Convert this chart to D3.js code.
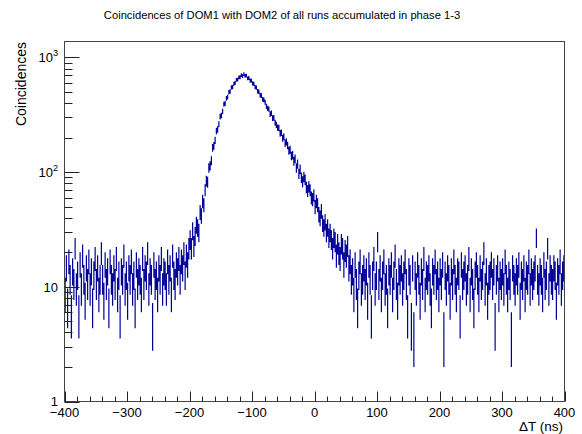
<!DOCTYPE html>
<html>
<head>
<meta charset="utf-8">
<script src="https://cdn.jsdelivr.net/npm/d3@7"></script>
<style>
  body { margin: 0; background: #fff; }
  svg { display: block; font-family: "Liberation Sans", Arial, Helvetica, sans-serif; }
</style>
</head>
<body>
<div id="chart"></div>
<script>
// counts per 2 ns bin
// bins -400 .. -202
const leftCounts = [
  9,15,7,17,12,6,14,11,22,10,
  13,6,16,10,19,12,8,15,11,17,
  10,14,7,13,18,11,15,9,12,20,
  12,8,16,11,14,7,17,12,10,15,
  11,18,9,13,6,14,12,19,10,13,
  8,15,12,17,10,13,7,16,11,14,
  12,9,18,11,15,13,20,10,14,12,
  5,16,11,13,9,15,12,18,10,14,
  13,10,17,12,15,9,19,13,11,16,
  14,18,12,17,15,20,13,19,16,22
];
// bins -200 .. 58
const peakCounts = [
  26,22,31,23,28,35,33,30,45,42,
  56,52,70,84,82,109,114,126,163,170,
  190,229,236,262,305,312,339,391,398,441,
  452,498,505,548,552,590,598,638,641,670,
  672,701,688,716,690,694,658,662,630,628,
  595,588,551,547,508,503,470,465,431,427,
  407,376,360,355,321,327,296,298,270,259,
  245,243,218,221,198,204,179,184,171,154,
  157,139,141,125,131,109,118,97,106,90,
  83,91,86,74,69,75,70,60,58,63,
  50,56,52,43,40,46,36,33,37,30,
  33,27,30,26,22,27,25,19,24,20,
  18,24,22,16,21,19,23,15,17,12
];
// bins 60 .. 398
const rightCounts = [
  14,9,16,11,7,13,17,10,12,15,
  11,14,8,16,12,6,13,18,10,13,
  25,11,15,9,13,17,10,12,7,14,
  12,16,9,13,19,11,8,14,12,15,
  10,13,17,11,6,14,12,5,15,4,
  13,10,16,12,8,14,11,18,9,13,
  12,15,10,7,14,12,17,11,13,9,
  14,11,16,4,13,10,15,12,8,14,
  11,17,12,9,14,13,6,16,11,13,
  15,10,12,18,9,14,11,7,13,16,
  12,9,15,11,13,20,10,14,8,12,
  13,16,11,14,5,12,15,9,13,11,
  14,10,17,12,9,13,11,4,15,12,
  10,14,12,16,8,13,11,15,9,13,
  12,17,10,14,11,13,15,27,12,10,
  14,12,9,16,11,13,22,10,15,12,
  11,15,13,8,14,12,17,10,13,15
];

const xMajorTicks = [-400, -300, -200, -100, 0, 100, 200, 300, 400];
const yMajorTicks = [1, 10, 100, 1000];
const yTickLabels = [["1", ""], ["10", ""], ["10", "2"], ["10", "3"]];

const width = 582, height = 434;
const frame = { left: 64.5, right: 564.5, top: 41.5, bottom: 401.5 };
const binWidth = 2;

const counts = leftCounts.concat(peakCounts, rightCounts);
const bins = counts.map((n, i) => ({ lo: -400 + i * binWidth, hi: -400 + (i + 1) * binWidth, n: n }));

const x = d3.scaleLinear().domain([-400, 400]).range([frame.left, frame.right]);
const y = d3.scaleLog().domain([1, 1377]).range([frame.bottom, frame.top]);

const svg = d3.select("#chart").append("svg")
    .attr("width", width)
    .attr("height", height);

svg.append("clipPath").attr("id", "clip")
  .append("rect")
    .attr("x", frame.left).attr("y", frame.top)
    .attr("width", frame.right - frame.left)
    .attr("height", frame.bottom - frame.top);

// histogram with sqrt(N) error bars
let d = "";
bins.forEach(b => {
    const xc = x((b.lo + b.hi) / 2);
    const err = Math.sqrt(b.n);
    const low = Math.max(b.n - err, 0.5);
    d += `M${xc},${y(b.n + err)}L${xc},${y(low)}`;
    d += `M${x(b.lo)},${y(b.n)}L${x(b.hi)},${y(b.n)}`;
});
svg.append("path")
    .attr("clip-path", "url(#clip)")
    .attr("d", d)
    .attr("fill", "none")
    .attr("stroke", "#000099")
    .attr("stroke-width", 1.2);

// frame
svg.append("rect")
    .attr("x", frame.left).attr("y", frame.top)
    .attr("width", frame.right - frame.left)
    .attr("height", frame.bottom - frame.top)
    .attr("fill", "none")
    .attr("stroke", "#444")
    .attr("stroke-width", 1);

// x ticks (inside the frame, like ROOT)
const xMinor = d3.range(-400, 401, 20).filter(v => v % 100 !== 0);
const ticks = svg.append("g").attr("stroke", "#222").attr("stroke-width", 1);
xMajorTicks.forEach(v => {
    ticks.append("line")
        .attr("x1", Math.round(x(v)) + 0.5).attr("x2", Math.round(x(v)) + 0.5)
        .attr("y1", frame.bottom).attr("y2", frame.bottom - 10);
});
xMinor.forEach(v => {
    ticks.append("line")
        .attr("x1", Math.round(x(v)) + 0.5).attr("x2", Math.round(x(v)) + 0.5)
        .attr("y1", frame.bottom).attr("y2", frame.bottom - 5);
});

// y ticks, log
const yMinor = [];
[1, 10, 100, 1000].forEach(dec => {
    for (let k = 2; k <= 9; k++) if (dec * k <= 1377) yMinor.push(dec * k);
});
yMajorTicks.forEach(v => {
    ticks.append("line")
        .attr("x1", frame.left).attr("x2", frame.left + 15)
        .attr("y1", Math.round(y(v)) + 0.5).attr("y2", Math.round(y(v)) + 0.5);
});
yMinor.forEach(v => {
    ticks.append("line")
        .attr("x1", frame.left).attr("x2", frame.left + 8)
        .attr("y1", Math.round(y(v)) + 0.5).attr("y2", Math.round(y(v)) + 0.5);
});

// tick labels
svg.append("g").selectAll("text")
  .data(xMajorTicks)
  .join("text")
    .attr("x", v => x(v))
    .attr("y", 417)
    .attr("text-anchor", "middle")
    .attr("font-size", 13)
    .text(v => v < 0 ? "\u2212" + Math.abs(v) : v);

const yl = svg.append("g").selectAll("text")
  .data(yMajorTicks)
  .join("text")
    .attr("x", 58)
    .attr("y", v => v === 1 ? y(v) + 4 : y(v) + 5)
    .attr("text-anchor", "end")
    .attr("font-size", 13);
yl.each(function(v, i) {
    const t = d3.select(this);
    const [base, sup] = yTickLabels[i];
    t.append("tspan").text(base);
    if (sup) t.append("tspan").attr("font-size", 9).attr("dy", -6).text(sup);
});

// titles
const title = svg.append("text")
    .attr("x", 282)
    .attr("y", 19)
    .attr("text-anchor", "middle")
    .attr("font-size", 12)
    .text("Coincidences of DOM1 with DOM2 of all runs accumulated in phase 1-3");
const tl = title.node().getComputedTextLength();
title.attr("font-size", 12 * 357 / tl);

svg.append("text")
    .attr("transform", "translate(26,42) rotate(-90)")
    .attr("text-anchor", "end")
    .attr("font-size", 14)
    .text("Coincidences");

svg.append("text")
    .attr("x", 563)
    .attr("y", 431)
    .attr("text-anchor", "end")
    .attr("font-size", 13.5)
    .text("\u0394T (ns)");
</script>
</body>
</html>
